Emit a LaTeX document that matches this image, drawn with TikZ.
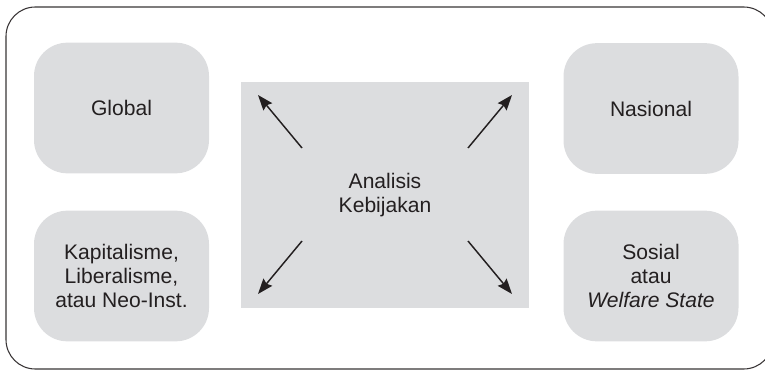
\documentclass[tikz,border=0pt]{standalone}
\usepackage{fontspec}
\setmainfont{Liberation Sans}
\usetikzlibrary{arrows.meta,calc}
\definecolor{boxgray}{HTML}{DCDDDF}
\definecolor{ink}{HTML}{231F20}
\begin{document}
\begin{tikzpicture}[x=0.75pt,y=-0.75pt,
  every node/.style={font=\fontsize{15.8}{18}\selectfont, text=ink, align=center, inner sep=0pt},
  sidebox/.style={fill=boxgray, draw=none, rounded corners=25pt, minimum width=131.25pt, minimum height=98pt},
  centerbox/.style={fill=boxgray, draw=none, minimum width=216pt, minimum height=169.5pt},
  frame/.style={draw=ink!90, line width=0.8pt, rounded corners=22pt},
  arr/.style={draw=ink, line width=1.1pt, -{Stealth[length=11.5pt,width=8.5pt,inset=1.5pt]}}]
\useasboundingbox (0,0) rectangle (765,371);
\clip (0,0) rectangle (765,371);
\draw[frame] (6,7) rectangle (773,369);
\node[sidebox] (global) at (121.5,108) {Global};
\node[sidebox] (nasional) at (651,108.5) {Nasional};
\node[sidebox] (kap) at (121.5,276) {Kapitalisme,\\Liberalisme,\\atau Neo-Inst.};
\node[sidebox] (sos) at (651,276) {Sosial\\atau\\\textit{Welfare State}};
\node[centerbox] (c) at (385,195) {Analisis\\Kebijakan};
\coordinate (ul1) at ($(c)+(-83,-47)$);
\coordinate (ul2) at ($(c)+(-127,-100)$);
\coordinate (ur1) at ($(c)+(83,-47)$);
\coordinate (ur2) at ($(c)+(127,-100)$);
\coordinate (ll1) at ($(c)+(-83,46)$);
\coordinate (ll2) at ($(c)+(-127,99)$);
\coordinate (lr1) at ($(c)+(83,46)$);
\coordinate (lr2) at ($(c)+(127,99)$);
\draw[arr] (ul1) -- (ul2);
\draw[arr] (ur1) -- (ur2);
\draw[arr] (ll1) -- (ll2);
\draw[arr] (lr1) -- (lr2);
\end{tikzpicture}
\end{document}
